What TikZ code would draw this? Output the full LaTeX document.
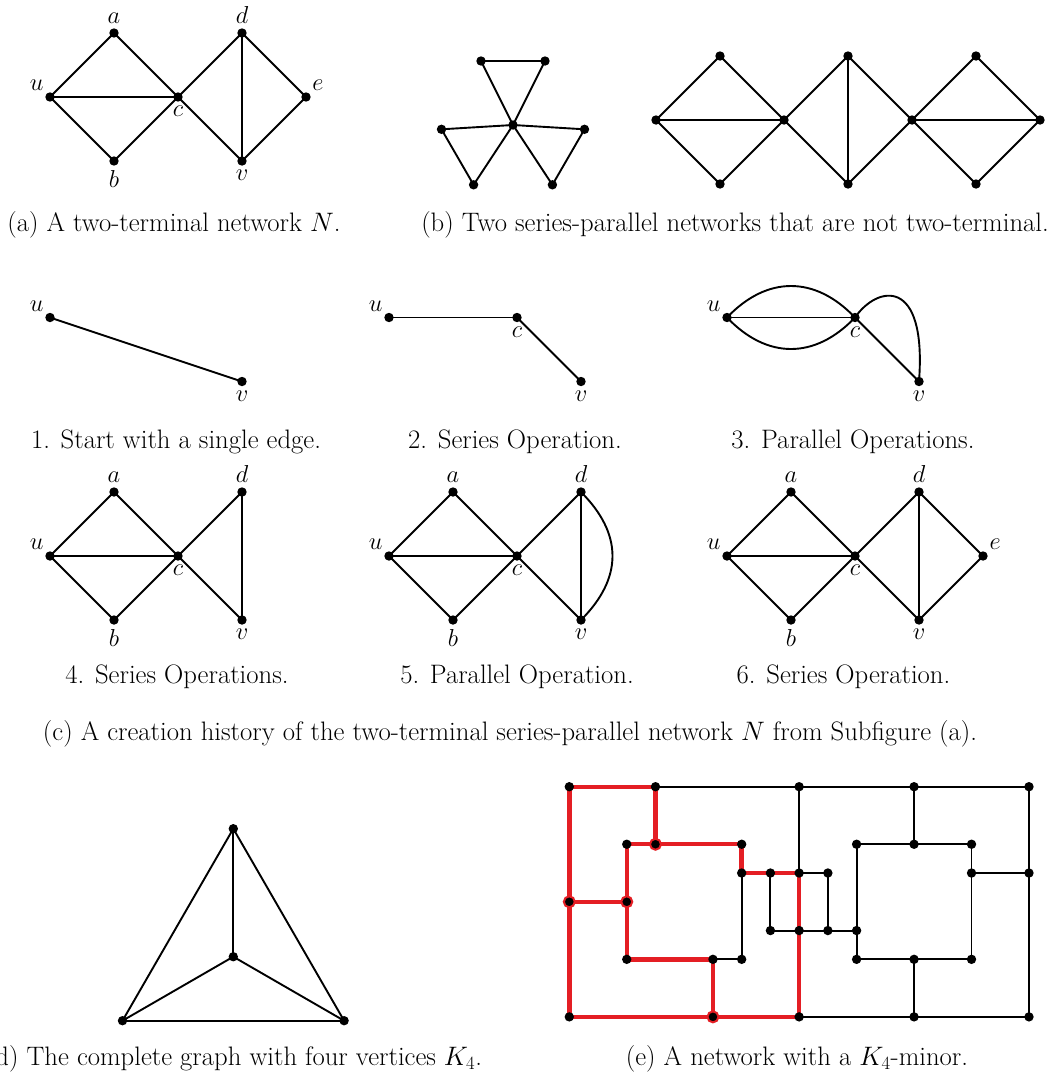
\documentclass[tikz,border=0pt]{standalone}
\usepackage{fix-cm}
\usepackage{fontspec}
\usetikzlibrary{calc}
\pgfdeclarelayer{bg}
\pgfsetlayers{bg,main}
\definecolor{kred}{RGB}{228,30,36}
\begin{document}
\begin{tikzpicture}[x=1pt,y=-1pt,
  font=\fontsize{24.5}{29}\selectfont,
  dot/.style={circle, fill=black, inner sep=0pt, minimum size=9.4pt},
  hot/.style={circle, fill=black, draw=kred, line width=2pt, inner sep=0pt, minimum size=11pt},
  edge/.style={line width=1.9pt},
  redge/.style={draw=kred, line width=4.4pt},
  captxt/.style={anchor=base, inner sep=0pt, font=\fontsize{26.7}{31}\selectfont},
  every label/.style={inner sep=0pt},
  label distance=4pt]
\useasboundingbox (0,0) rectangle (1063,1072);

% ---------------- (a)
\node[dot,label=above left:$u$] (au) at (50,97) {};
\node[dot,label=above:$a$] (aa) at (114,33) {};
\node[dot,label=below:$b$] (ab) at (114,161) {};
\node[dot,label=below:$c$] (ac) at (178,97) {};
\node[dot,label=above:$d$] (ad) at (242,33) {};
\node[dot,label=below:$v$] (av) at (242,161) {};
\node[dot,label=above right:$e$] (ae) at (306,97) {};
\begin{pgfonlayer}{bg}
\foreach \p/\q in {au/aa,aa/ac,au/ac,au/ab,ab/ac,ac/ad,ac/av,ad/av,ad/ae,av/ae}
  \draw[edge] (\p.center) -- (\q.center);
\end{pgfonlayer}
\node[captxt] (capa) at (174,231) {(a) A two-terminal network $N$.};

% ---------------- (b) triskelion
\node[dot] (tc) at (513,125) {};
\node[dot] (tA1) at (481,61) {};
\node[dot] (tA2) at (545,61) {};
\node[dot] (tB1) at (584.5,129.3) {};
\node[dot] (tB2) at (552.4,184.8) {};
\node[dot] (tC1) at (441.5,129.3) {};
\node[dot] (tC2) at (473.6,184.8) {};
% chain
\node[dot] (q0) at (656,120) {};
\node[dot] (qt1) at (720,56) {};
\node[dot] (qb1) at (720,184) {};
\node[dot] (qc1) at (784,120) {};
\node[dot] (qt2) at (848,56) {};
\node[dot] (qb2) at (848,184) {};
\node[dot] (qc2) at (912,120) {};
\node[dot] (qt3) at (976,56) {};
\node[dot] (qb3) at (976,184) {};
\node[dot] (qR) at (1040,120) {};
\begin{pgfonlayer}{bg}
\foreach \p/\q in {tc/tA1,tc/tA2,tA1/tA2,tc/tB1,tc/tB2,tB1/tB2,tc/tC1,tc/tC2,tC1/tC2,
  q0/qt1,qt1/qc1,q0/qb1,qb1/qc1,q0/qc1,
  qc1/qt2,qt2/qc2,qc1/qb2,qb2/qc2,qt2/qb2,
  qc2/qt3,qt3/qR,qc2/qb3,qb3/qR,qc2/qR}
  \draw[edge] (\p.center) -- (\q.center);
\end{pgfonlayer}
\node[captxt] (capb) at (735,231) {(b) Two series-parallel networks that are not two-terminal.};

% ---------------- (c) step 1
\node[dot,label=above left:$u$] (s1u) at (50,317.5) {};
\node[dot,label=below:$v$] (s1v) at (242,381.5) {};
% step 2
\node[dot,label=above left:$u$] (s2u) at (389,317.5) {};
\node[dot,label=below:$c$] (s2c) at (517,317.5) {};
\node[dot,label=below:$v$] (s2v) at (581,381.5) {};
% step 3
\node[dot,label=above left:$u$] (s3u) at (727,317.5) {};
\node[dot,label=below:$c$] (s3c) at (855,317.5) {};
\node[dot,label=below:$v$] (s3v) at (919,381.5) {};
\begin{pgfonlayer}{bg}
\foreach \p/\q in {s1u/s1v,s2u/s2c,s2c/s2v,s3u/s3c,s3c/s3v}
  \draw[edge] (\p.center) -- (\q.center);
\draw[edge] (s3u.center) .. controls +(40,-42) and +(-40,-42) .. (s3c.center);
\draw[edge] (s3u.center) .. controls +(40,42) and +(-40,42) .. (s3c.center);
\draw[edge] (s3c.center) .. controls +(22,-32) and +(8,-106) .. (s3v.center);
\end{pgfonlayer}
\node[captxt] (cap1) at (176,448) {1. Start with a single edge.};
\node[captxt] (cap2) at (515,448) {2. Series Operation.};
\node[captxt] (cap3) at (853,448) {3. Parallel Operations.};

% step 4
\node[dot,label=above left:$u$] (s4u) at (50,556) {};
\node[dot,label=above:$a$] (s4a) at (114,492) {};
\node[dot,label=below:$b$] (s4b) at (114,620) {};
\node[dot,label=below:$c$] (s4c) at (178,556) {};
\node[dot,label=above:$d$] (s4d) at (242,492) {};
\node[dot,label=below:$v$] (s4v) at (242,620) {};
% step 5
\node[dot,label=above left:$u$] (s5u) at (389,556) {};
\node[dot,label=above:$a$] (s5a) at (453,492) {};
\node[dot,label=below:$b$] (s5b) at (453,620) {};
\node[dot,label=below:$c$] (s5c) at (517,556) {};
\node[dot,label=above:$d$] (s5d) at (581,492) {};
\node[dot,label=below:$v$] (s5v) at (581,620) {};
% step 6
\node[dot,label=above left:$u$] (s6u) at (727,556) {};
\node[dot,label=above:$a$] (s6a) at (791,492) {};
\node[dot,label=below:$b$] (s6b) at (791,620) {};
\node[dot,label=below:$c$] (s6c) at (855,556) {};
\node[dot,label=above:$d$] (s6d) at (919,492) {};
\node[dot,label=below:$v$] (s6v) at (919,620) {};
\node[dot,label=above right:$e$] (s6e) at (983,556) {};
\begin{pgfonlayer}{bg}
\foreach \p/\q in {s4u/s4a,s4a/s4c,s4u/s4c,s4u/s4b,s4b/s4c,s4c/s4d,s4c/s4v,s4d/s4v,
  s5u/s5a,s5a/s5c,s5u/s5c,s5u/s5b,s5b/s5c,s5c/s5d,s5c/s5v,s5d/s5v,
  s6u/s6a,s6a/s6c,s6u/s6c,s6u/s6b,s6b/s6c,s6c/s6d,s6c/s6v,s6d/s6v,s6d/s6e,s6v/s6e}
  \draw[edge] (\p.center) -- (\q.center);
\draw[edge] (s5d.center) .. controls +(42,42) and +(42,-42) .. (s5v.center);
\end{pgfonlayer}
\node[captxt] (cap4) at (177,683) {4. Series Operations.};
\node[captxt] (cap5) at (517,683) {5. Parallel Operation.};
\node[captxt] (cap6) at (843.5,683) {6. Series Operation.};
\node[captxt] (capc) at (510,740) {(c) A creation history of the two-terminal series-parallel network $N$ from Subfigure (a).};

% ---------------- (d)
\node[dot] (dt) at (233.3,828.7) {};
\node[dot] (dm) at (233.3,956.7) {};
\node[dot] (dl) at (122.5,1020.7) {};
\node[dot] (dr) at (344.1,1020.7) {};
\begin{pgfonlayer}{bg}
\foreach \p/\q in {dt/dm,dt/dl,dt/dr,dm/dl,dm/dr,dl/dr}
  \draw[edge] (\p.center) -- (\q.center);
\end{pgfonlayer}
\node[captxt] (capd) at (234,1065) {(d) The complete graph with four vertices $K_4$.};

% ---------------- (e)
\begin{scope}[shift={(569.3,786.7)}, x=28.73pt, y=-28.77pt]
\foreach \c/\r in {0/0,3/0,8/0,12/0,16/0,
  2/2,6/2,10/2,12/2,14/2,
  6/3,7/3,8/3,9/3,14/3,16/3,
  7/5,8/5,9/5,10/5,
  2/6,5/6,6/6,10/6,12/6,14/6,
  0/8,8/8,12/8,16/8}
  \node[dot] (g\c-\r) at (\c,\r) {};
\foreach \c/\r in {3/2,0/4,2/4,5/8}
  \node[hot] (g\c-\r) at (\c,\r) {};
\end{scope}
\begin{pgfonlayer}{bg}
\foreach \p/\q in {3-0/8-0,8-0/12-0,12-0/16-0,8-0/8-3,12-0/12-2,16-0/16-3,16-3/16-8,
  10-2/12-2,12-2/14-2,14-2/14-3,14-3/16-3,14-3/14-6,8-3/9-3,6-3/6-6,5-6/6-6,
  7-3/7-5,9-3/9-5,7-5/8-5,8-5/9-5,9-5/10-5,10-2/10-5,10-5/10-6,10-6/12-6,
  12-6/14-6,12-6/12-8,8-8/12-8,12-8/16-8}
  \draw[edge] (g\p.center) -- (g\q.center);
\foreach \p/\q in {0-0/3-0,3-0/3-2,0-0/0-4,0-4/0-8,0-4/2-4,2-2/3-2,3-2/6-2,6-2/6-3,
  6-3/7-3,7-3/8-3,8-3/8-5,8-5/8-8,2-2/2-4,2-4/2-6,2-6/5-6,5-6/5-8,0-8/5-8,5-8/8-8}
  \draw[redge] (g\p.center) -- (g\q.center);
\end{pgfonlayer}
\node[captxt] (cape) at (797,1065) {(e) A network with a $K_4$-minor.};
\end{tikzpicture}
\end{document}
